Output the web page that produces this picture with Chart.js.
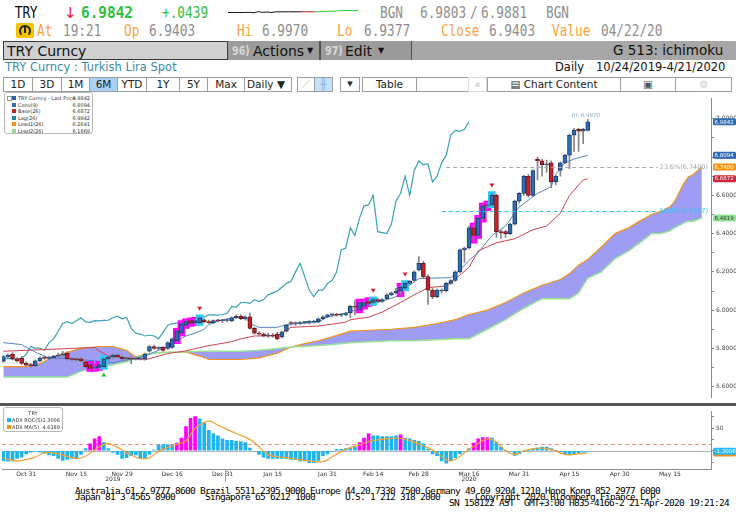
<!DOCTYPE html>
<html>
<head>
<meta charset="utf-8">
<title>TRY Curncy - ichimoku</title>
<script src="https://cdn.jsdelivr.net/npm/chart.js@4.4.1/dist/chart.umd.min.js"></script>
<style>
  body { margin:0; width:736px; height:530px; position:relative; overflow:hidden; background:#fff; font-family:"DejaVu Sans", sans-serif; }
  .t { position:absolute; white-space:pre; line-height:1; transform-origin:left top; }
  .m { font-family:"DejaVu Sans Mono", monospace; font-size:15px; transform:scaleX(0.85); }
  .or { color:#f6a43e; }
  .gr { color:#8e8e8e; }
  .btn { position:absolute; top:77px; height:15px; border:1px solid #9d9d9d; box-sizing:border-box; font-size:10.5px; line-height:13px; text-align:center; background:#fff; color:#222; white-space:pre; }
  .leg { position:absolute; background:#fff; border:1px solid #b8b8b8; border-radius:3px; box-sizing:border-box; font-size:5px; color:#333; }
  .leg .r { position:absolute; height:6px; line-height:6px; white-space:pre; }
  .leg .r span { position:absolute; right:0; top:0; }
  .leg .sq { position:absolute; width:4px; height:4px; }
  .ft { position:absolute; font-family:"DejaVu Sans Mono", monospace; font-size:9.5px; letter-spacing:-0.72px; line-height:1; white-space:pre; color:#000; }
  canvas { position:absolute; }
</style>
</head>
<body>

<!-- ligne 1 : cours -->
<div class="t" style="left:15px;top:6px;font-size:15px;transform:scaleX(0.8)">TRY</div>
<div class="t" style="left:64px;top:6px;font-size:15px;color:#e02828">↓</div>
<div class="t" style="left:81px;top:5px;font-family:'DejaVu Sans Mono';font-size:16px;font-weight:bold;color:#2ec03e;transform:scaleX(0.9)">6.9842</div>
<div class="t m" style="left:162px;top:6px;color:#2ec03e">+.0439</div>
<canvas id="spark" width="132" height="13" style="left:227px;top:5px"></canvas>
<div class="t m gr" style="left:380px;top:6px">BGN</div>
<div class="t m gr" style="left:420px;top:6px">6.9803</div>
<div class="t m gr" style="left:470px;top:6px">/</div>
<div class="t m gr" style="left:481px;top:6px">6.9881</div>
<div class="t m gr" style="left:546px;top:6px">BGN</div>

<!-- ligne 2 -->
<div style="position:absolute;left:16px;top:23px;width:18px;height:15px;background:#f4c400;border-radius:2px">
  <div style="position:absolute;left:3px;top:2px;width:8px;height:8px;border:2px solid #222;border-bottom-color:transparent;border-radius:50%"></div>
  <div style="position:absolute;left:8px;top:4px;width:2px;height:6px;background:#222"></div>
</div>
<div class="t m or" style="left:37px;top:24px">At</div>
<div class="t m gr" style="left:63px;top:24px">19:21</div>
<div class="t m or" style="left:124px;top:24px">Op</div>
<div class="t m gr" style="left:149px;top:24px">6.9403</div>
<div class="t m or" style="left:237px;top:24px">Hi</div>
<div class="t m gr" style="left:262px;top:24px">6.9970</div>
<div class="t m or" style="left:337px;top:24px">Lo</div>
<div class="t m gr" style="left:364px;top:24px">6.9377</div>
<div class="t m or" style="left:441px;top:24px">Close</div>
<div class="t m gr" style="left:489px;top:24px">6.9403</div>
<div class="t m or" style="left:552px;top:24px">Value</div>
<div class="t m gr" style="left:601px;top:24px">04/22/20</div>

<!-- ligne 3 : barre de commande -->
<div style="position:absolute;left:228px;top:41px;width:508px;height:19px;background:#a7a7a7"></div>
<div style="position:absolute;left:228px;top:41px;width:91px;height:19px;background:#9b9b9b"></div>
<div style="position:absolute;left:319px;top:41px;width:2px;height:19px;background:#505050"></div>
<div style="position:absolute;left:321px;top:41px;width:90px;height:19px;background:#9b9b9b"></div>
<div style="position:absolute;left:411px;top:41px;width:1px;height:19px;background:#505050"></div>
<div style="position:absolute;left:3px;top:41px;width:225px;height:19px;background:#d0d0d0;border:1px solid #3a3a3a;box-sizing:border-box"></div>
<div class="t" style="left:7px;top:44px;font-size:14px;color:#111">TRY Curncy</div>
<div class="t" style="left:232px;top:45px;font-size:12px;color:#d8d8d8;font-weight:bold;transform:scaleX(0.8)">96)</div>
<div class="t" style="left:253px;top:44px;font-size:14px;color:#111">Actions</div>
<div class="t" style="left:307px;top:47px;font-size:8px;color:#111">▼</div>
<div class="t" style="left:325px;top:45px;font-size:12px;color:#d8d8d8;font-weight:bold;transform:scaleX(0.8)">97)</div>
<div class="t" style="left:345px;top:44px;font-size:14px;color:#111">Edit</div>
<div class="t" style="left:378px;top:47px;font-size:8px;color:#111">▼</div>
<div class="t" style="left:613px;top:44px;font-size:13.5px;color:#111">G 513: ichimoku</div>

<!-- ligne 4 -->
<div class="t" style="left:5px;top:62px;font-size:11.5px;color:#3a8ca6">TRY Curncy : Turkish Lira Spot</div>
<div class="t" style="left:555px;top:62px;font-size:11.5px;color:#111">Daily</div>
<div class="t" style="left:596px;top:62px;font-size:11.5px;color:#111">10/24/2019-4/21/2020</div>

<!-- ligne 5 : boutons -->
<div class="btn" style="left:3px;width:30px">1D</div>
<div class="btn" style="left:32px;width:30px">3D</div>
<div class="btn" style="left:61px;width:29px">1M</div>
<div class="btn" style="left:89px;width:29px;background:#a9d1f5">6M</div>
<div class="btn" style="left:117px;width:30px">YTD</div>
<div class="btn" style="left:146px;width:34px">1Y</div>
<div class="btn" style="left:179px;width:29px">5Y</div>
<div class="btn" style="left:207px;width:38px">Max</div>
<div class="btn" style="left:244px;width:48px;text-align:left;padding-left:2px">Daily ▼</div>
<div class="btn" style="left:297px;width:18px;color:#c8c8c8">⟋</div>
<div class="btn" style="left:314px;width:19px;background:#c4e2fb;color:#8ab4dc">╫</div>
<div class="btn" style="left:340px;width:20px;font-size:7px">▼</div>
<div class="btn" style="left:362px;width:55px">Table</div>
<div class="btn" style="left:416px;width:53px"></div>
<div class="btn" style="left:468px;width:19px;border-color:#ddd;color:#bbb">«</div>
<div class="btn" style="left:487px;width:134px">▤ Chart Content</div>
<div class="btn" style="left:620px;width:56px;color:#555">▣</div>
<div class="btn" style="left:675px;width:57px;color:#ccc">⚙</div>

<!-- graphiques -->
<canvas id="main" width="736" height="310" style="left:0;top:93px"></canvas>
<div style="position:absolute;left:0;top:403px;width:736px;height:3px;background:#575757"></div>
<canvas id="adx" width="736" height="76" style="left:0;top:406px"></canvas>

<!-- légende principale -->
<div class="leg" style="left:4px;top:92px;width:89px;height:42px">
  <div style="position:absolute;left:2px;top:3px;width:3px;height:3px;border:1px solid #999"></div>
  <div class="r" style="left:13px;right:2px;top:2px"><i class="sq" style="left:-6px;top:1px;background:#2d62a8"></i>TRY Curncy - Last Price<span>6.9842</span></div>
  <div class="r" style="left:13px;right:2px;top:8.6px"><i class="sq" style="left:-6px;top:1px;background:#2e6db5"></i>Conv(9)<span>6.8094</span></div>
  <div class="r" style="left:13px;right:2px;top:15.2px"><i class="sq" style="left:-6px;top:1px;background:#c22430"></i>Base(26)<span>6.6872</span></div>
  <div class="r" style="left:13px;right:2px;top:21.8px"><i class="sq" style="left:-6px;top:1px;background:#1b8aa3"></i>Lag(26)<span>6.9842</span></div>
  <div class="r" style="left:13px;right:2px;top:28.4px"><i class="sq" style="left:-6px;top:1px;background:#f5901c"></i>Lead1(26)<span>6.2641</span></div>
  <div class="r" style="left:13px;right:2px;top:35px"><i class="sq" style="left:-6px;top:1px;background:#92dd92"></i>Lead2(26)<span>6.1669</span></div>
</div>

<!-- légende ADX -->
<div class="leg" style="left:3px;top:407px;width:60px;height:25px">
  <div class="r" style="left:0;right:0;top:2px;text-align:center">TRY</div>
  <div class="r" style="left:8px;right:2px;top:9px"><i class="sq" style="left:-5px;top:1px;background:#1db4ef"></i>ADX ROC(5)<span>-1.3006</span></div>
  <div class="r" style="left:8px;right:2px;top:15.5px"><i class="sq" style="left:-5px;top:1px;background:#f5901c"></i>ADX MA(5)<span>-4.6189</span></div>
</div>

<!-- pied de page -->
<div class="ft" style="left:75px;top:486px">Australia 61 2 9777 8600 Brazil 5511 2395 9000 Europe 44 20 7330 7500 Germany 49 69 9204 1210 Hong Kong 852 2977 6000</div>
<div class="ft" style="left:75px;top:492px">Japan 81 3 4565 8900</div>
<div class="ft" style="left:205px;top:492px">Singapore 65 6212 1000</div>
<div class="ft" style="left:345px;top:492px">U.S. 1 212 318 2000</div>
<div class="ft" style="left:475px;top:492px">Copyright 2020 Bloomberg Finance L.P.</div>
<div class="ft" style="left:449px;top:498px">SN 158122 AST  GMT+3:00 H835-4166-2 21-Apr-2020 19:21:24</div>

<script>
// ---------- données ----------
const firstDay = [2019, 9, 24];          // 24 oct 2019, premier jour affiché
const dayCount = 156;                     // jours ouvrés sur l'axe (dont 26 de projection)
const monthNames = ['Jan','Feb','Mar','Apr','May','Jun','Jul','Aug','Sep','Oct','Nov','Dec'];
const tickLabels = ['Oct 31','Nov 15','Nov 29','Dec 16','Dec 31','Jan 15','Jan 31','Feb 14','Feb 28','Mar 16','Mar 31','Apr 15','Apr 30','May 15'];

const openPx = [
  5.732,5.757,5.770,5.745,5.750,5.722,5.713,5.710,5.735,5.750,
  5.748,5.750,5.760,5.765,5.775,5.745,5.742,5.745,5.730,5.715,
  5.698,5.700,5.705,5.745,5.755,5.765,5.755,5.745,5.748,5.744,
  5.746,5.745,5.785,5.810,5.800,5.805,5.800,5.805,5.840,5.880,
  5.920,5.945,5.935,5.935,5.950,5.940,5.935,5.945,5.944,5.946,
  5.945,5.960,5.968,5.955,5.965,5.905,5.880,5.875,5.865,5.870,
  5.875,5.860,5.890,5.935,5.930,5.930,5.935,5.936,5.938,5.940,
  5.955,5.965,5.975,5.978,5.974,5.975,5.985,6.020,6.000,6.020,
  6.045,6.040,6.055,6.045,6.060,6.080,6.090,6.100,6.115,6.140,
  6.155,6.210,6.245,6.175,6.105,6.070,6.100,6.100,6.140,6.155,
  6.200,6.315,6.325,6.430,6.390,6.480,6.545,6.550,6.600,6.410,
  6.410,6.400,6.450,6.570,6.610,6.700,6.600,6.790,6.780,6.760,
  6.770,6.670,6.730,6.770,6.810,6.915,6.945,6.935,6.940];
const highPx = [
  5.762,5.770,5.778,5.752,5.758,5.730,5.722,5.740,5.756,5.760,
  5.760,5.764,5.775,5.785,5.782,5.752,5.750,5.752,5.738,5.722,
  5.710,5.722,5.752,5.760,5.770,5.772,5.762,5.755,5.756,5.752,
  5.755,5.775,5.815,5.818,5.808,5.810,5.835,5.855,5.895,5.935,
  5.945,5.950,5.952,5.965,5.955,5.948,5.950,5.952,5.952,5.955,
  5.965,5.975,5.975,5.972,5.985,5.910,5.888,5.882,5.880,5.878,
  5.885,5.890,5.925,5.940,5.938,5.942,5.942,5.945,5.948,5.960,
  5.970,5.980,5.982,5.984,5.982,5.988,6.025,6.050,6.048,6.048,
  6.055,6.060,6.062,6.060,6.085,6.095,6.115,6.130,6.145,6.155,
  6.205,6.280,6.255,6.185,6.115,6.110,6.112,6.145,6.160,6.205,
  6.320,6.330,6.440,6.445,6.485,6.550,6.560,6.610,6.605,6.420,
  6.418,6.455,6.575,6.615,6.705,6.710,6.735,6.800,6.790,6.785,
  6.780,6.705,6.775,6.815,6.920,6.950,6.950,6.950,6.997];
const lowPx = [
  5.728,5.750,5.740,5.728,5.716,5.708,5.700,5.705,5.730,5.742,
  5.740,5.745,5.755,5.760,5.738,5.735,5.732,5.728,5.700,5.690,
  5.690,5.695,5.700,5.738,5.748,5.750,5.740,5.735,5.720,5.738,
  5.740,5.740,5.780,5.795,5.792,5.785,5.795,5.800,5.835,5.875,
  5.915,5.925,5.930,5.930,5.935,5.930,5.930,5.938,5.935,5.938,
  5.940,5.955,5.950,5.948,5.900,5.875,5.868,5.860,5.858,5.858,
  5.845,5.855,5.885,5.922,5.920,5.925,5.928,5.928,5.932,5.935,
  5.950,5.960,5.966,5.968,5.966,5.970,5.960,5.975,5.995,6.015,
  6.030,6.035,6.040,6.040,6.055,6.075,6.085,6.080,6.110,6.135,
  6.150,6.205,6.170,6.030,6.060,6.065,6.090,6.095,6.135,6.150,
  6.195,6.250,6.320,6.360,6.385,6.470,6.530,6.545,6.380,6.375,
  6.380,6.395,6.445,6.560,6.600,6.590,6.595,6.680,6.700,6.720,
  6.640,6.655,6.700,6.765,6.740,6.830,6.830,6.870,6.935];
const closePx = [
  5.757,5.765,5.745,5.735,5.722,5.713,5.710,5.735,5.750,5.748,
  5.752,5.760,5.765,5.772,5.745,5.742,5.740,5.735,5.705,5.695,
  5.700,5.715,5.745,5.755,5.765,5.755,5.745,5.748,5.744,5.746,
  5.748,5.770,5.810,5.800,5.802,5.790,5.830,5.850,5.890,5.930,
  5.940,5.930,5.945,5.960,5.940,5.935,5.945,5.944,5.946,5.948,
  5.960,5.968,5.955,5.962,5.905,5.880,5.875,5.865,5.870,5.865,
  5.850,5.885,5.920,5.930,5.932,5.935,5.936,5.938,5.940,5.955,
  5.965,5.975,5.976,5.974,5.976,5.982,6.020,6.015,6.040,6.040,
  6.035,6.055,6.045,6.055,6.080,6.090,6.100,6.120,6.140,6.150,
  6.200,6.245,6.175,6.105,6.070,6.105,6.105,6.140,6.155,6.200,
  6.315,6.325,6.430,6.390,6.480,6.545,6.550,6.600,6.410,6.405,
  6.400,6.450,6.570,6.610,6.700,6.600,6.730,6.780,6.760,6.765,
  6.670,6.700,6.770,6.810,6.915,6.940,6.935,6.945,6.984];

// lignes ichimoku : [jour, valeur]
const conv9 = [[0,5.83],[4,5.82],[7,5.78],[10,5.75],[15,5.745],[20,5.735],[24,5.725],[28,5.745],[31,5.76],
  [34,5.79],[36,5.81],[38,5.84],[40,5.865],[42,5.88],[44,5.90],[45,5.925],[48,5.95],[51,5.962],[53,5.965],
  [54,5.93],[56,5.91],[60,5.91],[62,5.925],[69,5.937],[71,5.965],[75,5.985],[77,6.00],[80,6.02],[82,6.04],
  [86,6.07],[89,6.13],[91,6.165],[98,6.17],[100,6.21],[102,6.26],[104,6.30],[107,6.39],[110,6.44],
  [113,6.54],[117,6.61],[120,6.645],[121,6.71],[123,6.77],[125,6.79],[128,6.8094]];
const base26 = [[0,5.785],[10,5.795],[20,5.805],[21,5.787],[23,5.76],[28,5.747],[31,5.74],[36,5.773],
  [40,5.787],[44,5.81],[50,5.835],[52,5.85],[55,5.865],[60,5.865],[63,5.91],[69,5.917],[75,5.937],
  [76,5.95],[80,5.963],[83,5.99],[87,6.04],[90,6.08],[93,6.117],[97,6.127],[100,6.183],[102,6.224],
  [104,6.31],[108,6.352],[112,6.373],[116,6.42],[119,6.44],[122,6.506],[124,6.60],[127,6.68],[128,6.6872]];
const leadDays = [0,5,8,11,14,17,21,24,27,29,31,35,40,43,45,49,52,56,60,63,66,69,72,76,80,85,90,95,99,102,
  106,110,114,118,122,124,126,128,131,134,137,139,142,144,146,147,149,150,151,153];
const lead1 = [5.705,5.705,5.72,5.757,5.78,5.80,5.81,5.81,5.79,5.755,5.77,5.78,5.78,5.76,5.742,5.742,5.742,
  5.75,5.775,5.807,5.825,5.84,5.86,5.89,5.895,5.90,5.91,5.93,5.95,5.977,6.00,6.04,6.09,6.13,6.16,6.19,6.235,
  6.2641,6.33,6.40,6.43,6.46,6.50,6.516,6.54,6.567,6.66,6.696,6.706,6.748];
const lead2 = [5.65,5.65,5.65,5.65,5.65,5.68,5.705,5.715,5.73,5.748,5.77,5.778,5.782,5.785,5.785,5.785,5.785,
  5.79,5.80,5.807,5.81,5.815,5.82,5.83,5.835,5.84,5.84,5.845,5.85,5.85,5.90,5.95,6.01,6.06,6.06,6.06,6.09,
  6.1669,6.20,6.27,6.31,6.345,6.40,6.40,6.415,6.43,6.455,6.465,6.465,6.482];
const lagShift = 26;

const hotBars = [19,20,21,38,39,40,41,42,78,79,80,87,103,104,105,106];   // magenta
const coolBars = [22,43,81,88,107];                                       // cyan
const sellMarks = [43,81,88,107];
const buyMarks = [22];

const priceTicks = [5.6,5.7,5.8,5.9,6.0,6.1,6.2,6.3,6.4,6.5,6.6,6.7,6.8,6.9,7.0];
const lastBoxes = [
  {v:6.4819, t:'6.4819', bg:'#93e293', fg:'#333'},
  {v:6.6872, t:'6.6872', bg:'#c9283a', fg:'#fff'},
  {v:6.7480, t:'6.7480', bg:'#f39214', fg:'#fff'},
  {v:6.8094, t:'6.8094', bg:'#2c6bb4', fg:'#fff'},
  {v:6.9842, t:'6.9842', bg:'#2c6bb4', fg:'#fff'}];
const fibLevels = [
  {v:6.7480, t:'23.6%(6.7480)', from:97, color:'#a8a8a8'},
  {v:6.5157, t:'50.0%(6.5157)', from:96, color:'#2cc4f0'}];

const adxRoc = [
  -22,-23,-22,-17,-14,-7,-3,-1,-3,-5,
  -9,-11,-17,-21,-19,-17,-17,-8,5,15,
  26,31,18,5,-3,-8,-17,-15,-11,-9,
  -17,-15,-8,2,13,13,13,13,17,28,
  53,71,75,70,61,45,38,33,26,23,
  23,21,20,18,6,-1,-8,-14,-17,-17,
  -17,-17,-17,-19,-19,-22,-22,-26,-26,-21,
  -11,-7,-1,3,3,5,6,8,18,28,
  37,33,33,31,31,31,33,35,28,26,
  23,21,15,3,-7,-11,-22,-27,-22,-15,
  -7,-1,5,17,26,29,29,28,19,8,
  0,-1,-10,-7,-1,1,3,6,8,8,
  5,1,-2,-7,-9,-7,-5,-3,-1.3006];
const adxMa = [[0,-16],[3,-22],[7,-14],[9,-4],[12,-7],[16,-17],[18,-12],[20,2],[22,14],[23,16],[25,8],
  [27,-4],[30,-17],[32,-15],[34,-1],[37,11],[40,22],[42,49],[45,65],[47,56],[51,38],[54,25],[56,9],
  [58,-9],[62,-15],[66,-21],[70,-24],[72,-13],[75,3],[78,13],[81,23],[84,26],[86,28],[89,23],[92,11],
  [95,-4],[97,-20],[99,-19],[101,-4],[104,16],[106,26],[108,19],[110,0],[112,-8],[114,0],[117,6],
  [120,3],[123,-8],[126,-7],[128,-4.6189]];
const rocTicks = [-25,0,25,50,75];
const rocLine = 14;
const rocBoxes = [
  {v:-4.6189, t:'', bg:'#f5901c', fg:'#fff'},
  {v:-1.3006, t:'-1.3006', bg:'#29b8ee', fg:'#fff'}];

const spark = [6.9406,6.9406,6.9410,6.9406,6.9416,6.9420,6.9386,6.9486,6.9420,6.9454,6.9406,6.9466,6.9474,
  6.9466,6.9474,6.9474,6.9474,6.9474,6.9474,6.9474,6.9474,6.9486,6.9506,6.9520,6.9520,6.9554,6.9574,
  6.9586,6.9600,6.9574,6.9600];
const sparkRedFrom = 17, sparkGreenFrom = 20;

// ---------- calendrier (jours ouvrés) ----------
const days = [];
{
  const d = new Date(firstDay[0], firstDay[1], firstDay[2]);
  while (days.length < dayCount) {
    if (d.getDay() % 6 !== 0) days.push(new Date(d));
    d.setDate(d.getDate() + 1);
  }
}
const dayLabel = d => monthNames[d.getMonth()] + ' ' + d.getDate();
const tickDays = tickLabels.map(l => days.findIndex(d => dayLabel(d) === l));

// ---------- séries pour Chart.js ----------
const UP = '#2f6db5', UP_EDGE = '#1c3d6c', DOWN = '#c1232d', DOWN_EDGE = '#6c1218';
const isUp = i => closePx[i] >= openPx[i];
const idx = closePx.map((_, i) => i);

const bodies = idx.map(i => ({x:i, y:[openPx[i], closePx[i]]}));
const wicks = idx.map(i => ({x:i, y:[lowPx[i], highPx[i]]}));
const marked = hotBars.concat(coolBars);
const boxes = marked.map(i => ({x:i, y:[lowPx[i] - 0.01, highPx[i] + 0.01]}));
const boxColors = marked.map(i => hotBars.includes(i) ? '#ff00ff' : '#2cc8f4');
const pairs = arr => arr.map(p => ({x:p[0], y:p[1]}));
const lagLine = closePx.map((v, i) => ({x:i - lagShift, y:v})).filter(p => p.x >= 0);

const xRange = {type:'linear', min:-0.3, max:155, offset:false};

function roundBox(ctx, x, y, w, h, r) {
  ctx.beginPath();
  ctx.moveTo(x + r, y);
  ctx.arcTo(x + w, y, x + w, y + h, r);
  ctx.arcTo(x + w, y + h, x, y + h, r);
  ctx.arcTo(x, y + h, x, y, r);
  ctx.arcTo(x, y, x + w, y, r);
  ctx.closePath();
  ctx.fill();
}

// étiquettes de dernière valeur à droite de l'axe
const sideBoxes = {
  id: 'sideBoxes',
  afterDraw(chart, args, opts) {
    const {ctx, chartArea} = chart;
    const y = chart.scales.y;
    ctx.save();
    ctx.font = '5.5px "DejaVu Sans"';
    ctx.textBaseline = 'middle';
    ctx.textAlign = 'left';
    opts.items.forEach(b => {
      const py = y.getPixelForValue(b.v);
      ctx.fillStyle = b.bg;
      roundBox(ctx, chartArea.right + 2, py - 3.5, 23, 7, 1.5);
      ctx.fillStyle = b.fg;
      if (b.t) ctx.fillText(b.t, chartArea.right + 3.5, py + 0.3);
    });
    ctx.restore();
  }
};

// annotations du graphique principal
const priceNotes = {
  id: 'priceNotes',
  afterDatasetsDraw(chart) {
    const {ctx, chartArea} = chart;
    const x = chart.scales.x, y = chart.scales.y;
    ctx.save();
    // niveaux de Fibonacci
    ctx.font = '6.5px "DejaVu Sans"';
    ctx.textBaseline = 'alphabetic';
    ctx.textAlign = 'right';
    fibLevels.forEach(f => {
      const py = Math.round(y.getPixelForValue(f.v)) + 0.5;
      const tw = ctx.measureText(f.t).width;
      ctx.strokeStyle = f.color;
      ctx.lineWidth = 1;
      ctx.setLineDash([4, 3]);
      ctx.beginPath();
      ctx.moveTo(x.getPixelForValue(f.from), py);
      ctx.lineTo(chartArea.right - 5 - tw, py);
      ctx.stroke();
      ctx.fillStyle = f.color;
      ctx.fillText(f.t, chartArea.right - 3, py + 1);
    });
    ctx.setLineDash([]);
    // triangles
    ctx.fillStyle = '#d4202c';
    sellMarks.forEach(i => {
      const px = x.getPixelForValue(i), py = y.getPixelForValue(highPx[i]) - 7;
      ctx.beginPath();
      ctx.moveTo(px - 2.5, py - 3); ctx.lineTo(px + 2.5, py - 3); ctx.lineTo(px, py + 1);
      ctx.closePath(); ctx.fill();
    });
    ctx.fillStyle = '#22c42a';
    buyMarks.forEach(i => {
      const px = x.getPixelForValue(i), py = y.getPixelForValue(lowPx[i]) + 6;
      ctx.beginPath();
      ctx.moveTo(px - 2.5, py + 3); ctx.lineTo(px + 2.5, py + 3); ctx.lineTo(px, py - 1);
      ctx.closePath(); ctx.fill();
    });
    // plus haut
    const last = highPx.length - 1;
    ctx.font = '5.5px "DejaVu Sans"';
    ctx.textAlign = 'center';
    ctx.fillStyle = '#86a6c8';
    ctx.fillText('Hi: ' + highPx[last].toFixed(4), x.getPixelForValue(last) - 2, y.getPixelForValue(highPx[last]) - 2);
    ctx.restore();
  }
};

// panneau ADX : lignes de référence, années
const adxNotes = {
  id: 'adxNotes',
  beforeDatasetsDraw(chart) {
    const {ctx, chartArea} = chart;
    const y = chart.scales.y;
    ctx.save();
    ctx.lineWidth = 1;
    let py = Math.round(y.getPixelForValue(0)) + 0.5;
    ctx.strokeStyle = '#b4b4b4';
    ctx.beginPath(); ctx.moveTo(chartArea.left, py); ctx.lineTo(chartArea.right, py); ctx.stroke();
    py = Math.round(y.getPixelForValue(rocLine)) + 0.5;
    ctx.strokeStyle = '#f28a8a';
    ctx.setLineDash([4, 3]);
    ctx.beginPath(); ctx.moveTo(chartArea.left, py); ctx.lineTo(chartArea.right, py); ctx.stroke();
    ctx.restore();
  },
  afterDraw(chart) {
    const {ctx, chartArea} = chart;
    const x = chart.scales.x;
    ctx.save();
    ctx.font = '6px "DejaVu Sans"';
    ctx.fillStyle = '#333';
    ctx.textAlign = 'center';
    ctx.textBaseline = 'middle';
    const years = [...new Set(days.map(d => d.getFullYear()))];
    years.forEach(yr => {
      const first = days.findIndex(d => d.getFullYear() === yr);
      let lastI = first;
      days.forEach((d, i) => { if (d.getFullYear() === yr) lastI = i; });
      const mid = (first + lastI) / 2;
      ctx.fillText(String(yr), x.getPixelForValue(mid), chartArea.bottom + 10);
      if (first > 0) {
        const sx = Math.round(x.getPixelForValue(first - 0.5)) + 0.5;
        ctx.strokeStyle = '#9a9a9a';
        ctx.beginPath(); ctx.moveTo(sx, chartArea.bottom); ctx.lineTo(sx, chartArea.bottom + 13); ctx.stroke();
      }
    });
    ctx.restore();
  }
};

Chart.defaults.font.family = '"DejaVu Sans", sans-serif';

// ---------- graphique principal ----------
new Chart(document.getElementById('main'), {
  type: 'bar',
  data: {
    datasets: [
      {type:'line', label:'Lead1(26)', data: leadDays.map((d, k) => ({x:d, y:lead1[k]})),
       borderColor:'#f39419', borderWidth:1.2, pointRadius:0, fill:'+1', backgroundColor:'#9e9df3', order:30},
      {type:'line', label:'Lead2(26)', data: leadDays.map((d, k) => ({x:d, y:lead2[k]})),
       borderColor:'#98e398', borderWidth:1.5, pointRadius:0, fill:false, order:29},
      {type:'line', label:'Lag(26)', data: lagLine, borderColor:'#3aa3b3', borderWidth:1.2, pointRadius:0, fill:false, order:25},
      {type:'line', label:'Base(26)', data: pairs(base26), borderColor:'#d2424f', borderWidth:1, pointRadius:0, fill:false, order:24},
      {type:'line', label:'Conv(9)', data: pairs(conv9), borderColor:'#5585c2', borderWidth:1, pointRadius:0, fill:false, order:23},
      {label:'marks', data: boxes, backgroundColor: boxColors, barThickness:7, grouped:false, order:22},
      {label:'wicks', data: wicks, backgroundColor:'#858585', barThickness:1, grouped:false, order:21},
      {label:'TRY Curncy - Last Price', data: bodies,
       backgroundColor: idx.map(i => isUp(i) ? UP : DOWN),
       borderColor: idx.map(i => isUp(i) ? UP_EDGE : DOWN_EDGE),
       borderWidth:1, borderSkipped:false, barThickness:4, minBarLength:1, grouped:false, order:20}
    ]
  },
  options: {
    responsive:false, animation:false, events:[],
    layout:{padding:{left:2, top:2, bottom:2, right:0}},
    plugins:{legend:{display:false}, tooltip:{enabled:false}, sideBoxes:{items:lastBoxes}},
    scales:{
      x: Object.assign({display:false, grid:{offset:false}}, xRange),
      y: {
        position:'right', min:5.5439, max:7.1057,
        afterBuildTicks: s => { s.ticks = priceTicks.map(v => ({value:v})); },
        afterFit: s => { s.width = 25; },
        grid:{drawOnChartArea:false, tickLength:3, color:'#8c8c8c'},
        border:{color:'#8c8c8c'},
        ticks:{autoSkip:false, padding:2, color:'#444', font:{size:6},
               callback: v => (Math.round(v * 10) % 2 === 0) ? v.toFixed(4) : ''}
      }
    }
  },
  plugins:[priceNotes, sideBoxes]
});

// ---------- panneau ADX ----------
new Chart(document.getElementById('adx'), {
  type: 'bar',
  data: {
    datasets: [
      {type:'line', label:'ADX MA(5)', data: pairs(adxMa), borderColor:'#f5a030', borderWidth:1.2,
       pointRadius:0, tension:0.4, fill:false, order:1},
      {label:'ADX ROC(5)', data: adxRoc.map((v, i) => ({x:i, y:v})),
       backgroundColor: idx.map(i => hotBars.includes(i) ? '#ff00ff' : '#1db4ef'),
       barThickness:3, grouped:false, order:2}
    ]
  },
  options: {
    responsive:false, animation:false, events:[],
    layout:{padding:{left:2, top:0, bottom:0, right:0}},
    plugins:{legend:{display:false}, tooltip:{enabled:false}, sideBoxes:{items:rocBoxes}},
    scales:{
      x: Object.assign({
        afterBuildTicks: s => { s.ticks = tickDays.map(v => ({value:v})); },
        afterFit: s => { s.height = 13; },
        grid:{drawOnChartArea:false, drawTicks:false, offset:false},
        border:{color:'#8c8c8c'},
        ticks:{autoSkip:false, maxRotation:0, padding:2, color:'#333', font:{size:6},
               callback: v => dayLabel(days[Math.round(v)])}
      }, xRange),
      y: {
        position:'right', min:-40, max:86,
        afterBuildTicks: s => { s.ticks = rocTicks.map(v => ({value:v})); },
        afterFit: s => { s.width = 25; },
        grid:{drawOnChartArea:false, tickLength:3, color:'#8c8c8c'},
        border:{color:'#8c8c8c'},
        ticks:{autoSkip:false, padding:2, color:'#444', font:{size:6},
               callback: v => v === 50 ? '50' : ''}
      }
    }
  },
  plugins:[adxNotes, sideBoxes]
});

// ---------- mini-courbe de l'en-tête ----------
new Chart(document.getElementById('spark'), {
  type: 'line',
  data: {
    labels: spark.map((_, i) => i),
    datasets: [{data: spark, borderWidth:1, pointRadius:0, fill:false,
      segment:{borderColor: c => c.p0DataIndex < sparkRedFrom ? '#111' : (c.p0DataIndex < sparkGreenFrom ? '#d41414' : '#28c828')}}]
  },
  options: {
    responsive:false, animation:false, events:[],
    layout:{padding:1},
    plugins:{legend:{display:false}, tooltip:{enabled:false}},
    scales:{x:{display:false}, y:{display:false}}
  }
});
</script>
</body>
</html>
